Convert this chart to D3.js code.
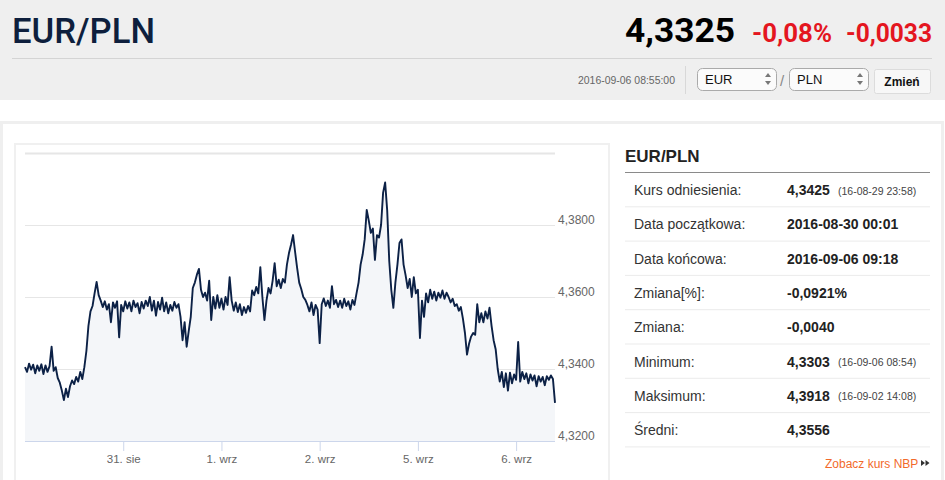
<!DOCTYPE html>
<html>
<head>
<meta charset="utf-8">
<script src="https://cdn.jsdelivr.net/npm/d3@7"></script>
<style>
	body { margin: 0; background: #fff; }
	svg { display: block; font-family: "Liberation Sans", Arial, sans-serif; }
</style>
</head>
<body>
<svg id="page" width="945" height="480"></svg>
<script>
// Axis labels
let tickLabels = ["31. sie", "1. wrz", "2. wrz", "5. wrz", "6. wrz"];
let tickDays = [1, 2, 3, 4, 5];
let yLabels = [4.32, 4.34, 4.36, 4.38];
let yGrid = [4.32, 4.34, 4.36, 4.38, 4.40];

// EUR/PLN quotes every 30 minutes, one array per trading day (from 00:00)
let day30 = [4.3405, 4.3392, 4.3415, 4.3398, 4.3412, 4.3388, 4.3410, 4.3395, 4.3413, 4.3386,
	4.3410, 4.3392, 4.3408, 4.3462, 4.3395, 4.3405, 4.3375, 4.3362, 4.3340, 4.3314,
	4.3345, 4.3322, 4.3352, 4.3368, 4.3358, 4.3378, 4.3365, 4.3392, 4.3372, 4.3405,
	4.3450, 4.3520, 4.3560, 4.3575, 4.3610, 4.3642, 4.3605, 4.3590, 4.3572, 4.3588,
	4.3565, 4.3580, 4.3530, 4.3585, 4.3570, 4.3588, 4.3488, 4.3578];
let day31 = [4.3560, 4.3588, 4.3568, 4.3585, 4.3560, 4.3590, 4.3572, 4.3583, 4.3555, 4.3586,
	4.3568, 4.3590, 4.3575, 4.3600, 4.3562, 4.3590, 4.3548, 4.3586, 4.3565, 4.3598,
	4.3560, 4.3585, 4.3555, 4.3578, 4.3562, 4.3586, 4.3570, 4.3580, 4.3545, 4.3480,
	4.3530, 4.3462, 4.3505, 4.3545, 4.3625, 4.3640, 4.3662, 4.3678, 4.3620, 4.3600,
	4.3612, 4.3590, 4.3645, 4.3536, 4.3600, 4.3568, 4.3605, 4.3570];
let day01 = [4.3595, 4.3565, 4.3600, 4.3578, 4.3655, 4.3590, 4.3562, 4.3585, 4.3558, 4.3580,
	4.3550, 4.3572, 4.3556, 4.3575, 4.3560, 4.3618, 4.3605, 4.3628, 4.3610, 4.3683,
	4.3600, 4.3536, 4.3590, 4.3625, 4.3610, 4.3645, 4.3694, 4.3630, 4.3648, 4.3625,
	4.3650, 4.3640, 4.3690, 4.3722, 4.3745, 4.3772, 4.3725, 4.3680, 4.3640, 4.3622,
	4.3600, 4.3592, 4.3578, 4.3560, 4.3585, 4.3550, 4.3578, 4.3565];
let day02 = [4.3472, 4.3580, 4.3596, 4.3575, 4.3590, 4.3570, 4.3630, 4.3580, 4.3592, 4.3572,
	4.3590, 4.3570, 4.3595, 4.3575, 4.3588, 4.3565, 4.3592, 4.3578, 4.3610, 4.3640,
	4.3690, 4.3718, 4.3760, 4.3842, 4.3812, 4.3778, 4.3790, 4.3703, 4.3772, 4.3765,
	4.3800, 4.3890, 4.3918, 4.3840, 4.3700, 4.3620, 4.3570, 4.3640, 4.3690, 4.3750,
	4.3760, 4.3690, 4.3660, 4.3625, 4.3650, 4.3600, 4.3655, 4.3610];
let day05 = [4.3620, 4.3486, 4.3590, 4.3545, 4.3610, 4.3585, 4.3620, 4.3595, 4.3615, 4.3590,
	4.3612, 4.3598, 4.3618, 4.3595, 4.3612, 4.3600, 4.3585, 4.3595, 4.3575, 4.3580,
	4.3562, 4.3572, 4.3540, 4.3500, 4.3440, 4.3470, 4.3490, 4.3500, 4.3495, 4.3580,
	4.3530, 4.3555, 4.3530, 4.3560, 4.3540, 4.3570, 4.3520, 4.3480, 4.3455, 4.3400,
	4.3365, 4.3392, 4.3350, 4.3388, 4.3340, 4.3390, 4.3360, 4.3385];
let day06 = [4.3370, 4.3475, 4.3365, 4.3392, 4.3372, 4.3388, 4.3360, 4.3385, 4.3368, 4.3382,
	4.3352, 4.3380, 4.3365, 4.3378, 4.3355, 4.3380, 4.3370, 4.3382, 4.3372, 4.3306];
let days = [day30, day31, day01, day02, day05, day06];

// Summary table
let rowLabels = ["Kurs odniesienia:", "Data początkowa:", "Data końcowa:", "Zmiana[%]:",
	"Zmiana:", "Minimum:", "Maksimum:", "Średni:"];
let rowValues = ["4,3425", "2016-08-30 00:01", "2016-09-06 09:18", "-0,0921%",
	"-0,0040", "4,3303", "4,3918", "4,3556"];
let rowNotes = ["(16-08-29 23:58)", "", "", "", "", "(16-09-06 08:54)", "(16-09-02 14:08)", ""];

let svg = d3.select("#page");

// ---- header ----
svg.append("rect").attr("width", 945).attr("height", 100).attr("fill", "#efefef");

svg.append("text")
	.attr("x", 12).attr("y", 43)
	.attr("textLength", 143).attr("lengthAdjust", "spacingAndGlyphs")
	.style("font-family", "Roboto, sans-serif").style("font-weight", 500)
	.style("font-size", "35px").attr("fill", "#0e1f3d")
	.text("EUR/PLN");

svg.append("text")
	.attr("x", 625).attr("y", 42)
	.attr("textLength", 110).attr("lengthAdjust", "spacingAndGlyphs")
	.style("font-family", "Roboto, sans-serif").style("font-weight", 700)
	.style("font-size", "34px").attr("fill", "#000")
	.text("4,3325");

svg.append("text")
	.attr("x", 752).attr("y", 42)
	.attr("textLength", 80).attr("lengthAdjust", "spacingAndGlyphs")
	.style("font-family", "Roboto, sans-serif").style("font-weight", 700)
	.style("font-size", "25px").attr("fill", "#e4161f")
	.text("-0,08%");

svg.append("text")
	.attr("x", 846).attr("y", 42)
	.attr("textLength", 86).attr("lengthAdjust", "spacingAndGlyphs")
	.style("font-family", "Roboto, sans-serif").style("font-weight", 700)
	.style("font-size", "25px").attr("fill", "#e4161f")
	.text("-0,0033");

svg.append("line")
	.attr("x1", 12).attr("x2", 932).attr("y1", 58.5).attr("y2", 58.5)
	.attr("stroke", "#d4d4d4");

svg.append("text")
	.attr("x", 578).attr("y", 84)
	.attr("textLength", 97).attr("lengthAdjust", "spacingAndGlyphs")
	.style("font-size", "11px").attr("fill", "#666")
	.text("2016-09-06 08:55:00");

svg.append("line")
	.attr("x1", 685.5).attr("x2", 685.5).attr("y1", 66).attr("y2", 94)
	.attr("stroke", "#d8d8d8");

function drawSelect(x, label) {
	svg.append("rect")
		.attr("x", x + 0.5).attr("y", 68.5).attr("width", 79).attr("height", 22).attr("rx", 5)
		.attr("fill", "#fbfbfb").attr("stroke", "#aaa");
	svg.append("text")
		.attr("x", x + 8).attr("y", 84)
		.style("font-size", "13px").attr("fill", "#111")
		.text(label);
	svg.append("path")
		.attr("d", `M${x + 68},${77} l3,-4 l3,4 z M${x + 68},${81} l3,4 l3,-4 z`)
		.attr("fill", "#777");
}
drawSelect(697, "EUR");
svg.append("text")
	.attr("x", 780).attr("y", 86)
	.style("font-size", "15px").attr("fill", "#888")
	.text("/");
drawSelect(789, "PLN");

svg.append("rect")
	.attr("x", 874.5).attr("y", 69.5).attr("width", 56).attr("height", 24).attr("rx", 2)
	.attr("fill", "#f7f7f7").attr("stroke", "#dcdcdc");
svg.append("text")
	.attr("x", 902).attr("y", 86).attr("text-anchor", "middle")
	.style("font-size", "12px").style("font-weight", "bold").attr("fill", "#111")
	.text("Zmień");

// ---- panels ----
svg.append("rect")
	.attr("x", 1.5).attr("y", 122.5).attr("width", 941).attr("height", 362)
	.attr("fill", "#fff").attr("stroke", "#efefef").attr("stroke-width", 3);

svg.append("rect")
	.attr("x", 15).attr("y", 144).attr("width", 594).attr("height", 345)
	.attr("fill", "none").attr("stroke", "#f0f0f0").attr("stroke-width", 2);

// ---- chart ----
let points = [];
days.forEach((vals, d) => {
	vals.forEach((v, k) => {
		points.push({ t: d + k / 48, v: v });
	});
});

let plotLeft = 25, plotRight = 555, plotTop = 153, plotBottom = 441;

let xScale = d3.scaleLinear()
	.domain([0, d3.max(points, d => d.t)])
	.range([plotLeft, plotRight]);
let yScale = d3.scaleLinear()
	.domain([4.32, 4.40])
	.range([plotBottom, plotTop]);

let fmt = d => d3.format(".4f")(d).replace(".", ",");

// grid
let grid = svg.append("g")
	.attr("transform", "translate(" + plotRight + ",0)")
	.call(d3.axisRight(yScale).tickValues(yGrid).tickSize(-(plotRight - plotLeft)).tickFormat(""));
grid.select(".domain").remove();
grid.selectAll(".tick line")
	.attr("stroke", "#e6e6e6")
	.attr("stroke-width", d => d === 4.40 ? 2 : 1);

// area + line
let area = d3.area()
	.x(d => xScale(d.t))
	.y0(plotBottom)
	.y1(d => yScale(d.v));
let line = d3.line()
	.x(d => xScale(d.t))
	.y(d => yScale(d.v));

svg.append("path")
	.datum(points)
	.attr("d", area)
	.attr("fill", "#f4f6f9");

svg.append("path")
	.datum(points)
	.attr("d", line)
	.attr("fill", "none")
	.attr("stroke", "#0c2146")
	.attr("stroke-width", 1.9)
	.attr("stroke-linejoin", "round");

// y labels
let yAxis = svg.append("g")
	.attr("transform", "translate(" + (plotRight + 3) + ",0)")
	.call(d3.axisRight(yScale).tickValues(yLabels).tickSize(0).tickPadding(0).tickFormat(fmt));
yAxis.select(".domain").remove();
yAxis.selectAll("text")
	.attr("y", -5)
	.style("font-family", "Liberation Sans, Arial, sans-serif")
	.style("font-size", "12px")
	.attr("fill", "#666");

// x axis
let xAxis = svg.append("g")
	.attr("transform", "translate(0," + plotBottom + ")")
	.call(d3.axisBottom(xScale).tickValues(tickDays).tickSize(10).tickPadding(4)
		.tickFormat((d, i) => tickLabels[i]));
xAxis.select(".domain")
	.attr("d", "M" + plotLeft + ",0.5H" + plotRight)
	.attr("stroke", "#ccd6eb");
xAxis.selectAll(".tick line").attr("stroke", "#ccd6eb");
xAxis.selectAll("text")
	.style("font-family", "Liberation Sans, Arial, sans-serif")
	.style("font-size", "11.5px")
	.attr("fill", "#666");

// ---- summary table ----
svg.append("text")
	.attr("x", 625).attr("y", 162)
	.style("font-size", "17px").style("font-weight", "bold").attr("fill", "#222")
	.text("EUR/PLN");
svg.append("line")
	.attr("x1", 625).attr("x2", 930).attr("y1", 172.5).attr("y2", 172.5)
	.attr("stroke", "#8a8a8a");

let rowY = d3.scaleLinear().domain([0, 1]).range([172.5, 206.8]);

let rows = svg.selectAll(".row").data(rowLabels).enter()
	.append("g")
	.attr("class", "row")
	.attr("transform", (d, i) => "translate(0," + rowY(i) + ")");

rows.append("line")
	.attr("x1", 625).attr("x2", 930)
	.attr("y1", 34.3).attr("y2", 34.3)
	.attr("stroke", "#ebebeb");
rows.append("text")
	.attr("x", 634).attr("y", 22.5)
	.style("font-size", "14px").attr("fill", "#333")
	.text(d => d);
rows.append("text")
	.attr("x", 787).attr("y", 22.5)
	.style("font-size", "14px").style("font-weight", "bold").attr("fill", "#222")
	.text((d, i) => rowValues[i]);
rows.append("text")
	.attr("x", 838).attr("y", 22)
	.style("font-size", "10.5px").attr("fill", "#444")
	.text((d, i) => rowNotes[i]);

svg.append("text")
	.attr("x", 825).attr("y", 468)
	.style("font-size", "12px").attr("fill", "#f26a2a")
	.text("Zobacz kurs NBP");
svg.append("path")
	.attr("d", "M921,460 l4,3 l-4,3 z M925.5,460 l4,3 l-4,3 z")
	.attr("fill", "#333");
</script>
</body>
</html>
